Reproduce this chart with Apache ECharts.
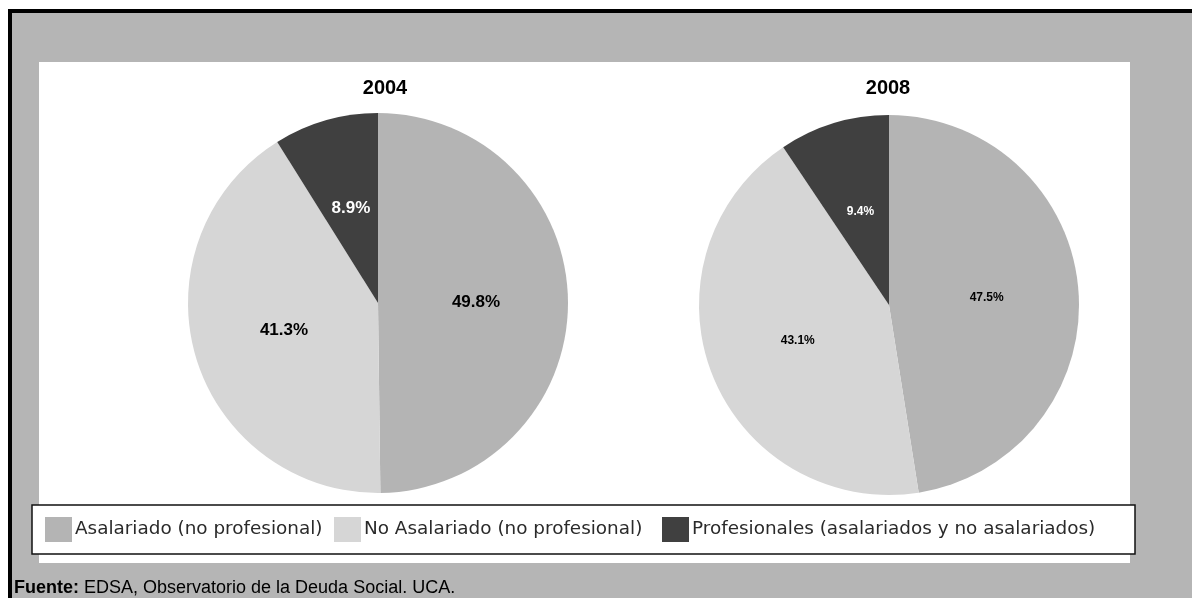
<!DOCTYPE html>
<html>
<head>
<meta charset="utf-8">
<script src="https://cdn.jsdelivr.net/npm/echarts@6/dist/echarts.min.js"></script>
<style>
  html, body { margin: 0; padding: 0; background: #ffffff; }
  #chart { width: 1192px; height: 598px; }
</style>
</head>
<body>
<div id="chart"></div>
<script>
// Categories of employment and their share (%) in each survey year
const categories = [
  'Asalariado (no profesional)',
  'No Asalariado (no profesional)',
  'Profesionales (asalariados y no asalariados)'
];
const years = ['2004', '2008'];
const values2004 = [49.8, 41.3, 8.9];
const values2008 = [47.5, 43.1, 9.4];
const sliceColors = ['#b4b4b4', '#d6d6d6', '#404040'];
const labelColors = ['#000000', '#000000', '#ffffff'];
const sourceNote = 'EDSA, Observatorio de la Deuda Social. UCA.';

const FONT_ARIAL = 'Arial, "Liberation Sans", sans-serif';
const FONT_LEGEND = '"DejaVu Sans", Verdana, sans-serif';

function pieSeries(values, center, labelSize) {
  return {
    type: 'pie',
    center: center,
    radius: 190,
    startAngle: 90,
    clockwise: true,
    silent: true,
    avoidLabelOverlap: false,
    itemStyle: { borderWidth: 0 },
    emphasis: { disabled: true },
    label: {
      show: true,
      position: 'inside',
      fontFamily: FONT_ARIAL,
      fontWeight: 'bold',
      fontSize: labelSize,
      formatter: p => p.value.toFixed(1) + '%'
    },
    labelLine: { show: false },
    data: categories.map((name, i) => ({
      name: name,
      value: values[i],
      itemStyle: { color: sliceColors[i] },
      label: { color: labelColors[i] }
    }))
  };
}

// one legend per entry so each sits at its own spot inside the frame
const legendLefts = [45, 334, 662];
const legends = categories.map((name, i) => ({
  data: [name],
  left: legendLefts[i],
  top: 517,
  padding: 0,
  orient: 'horizontal',
  icon: 'rect',
  itemWidth: 27,
  itemHeight: 25,
  itemGap: 0,
  selectedMode: false,
  textStyle: { fontFamily: FONT_LEGEND, fontSize: 18.4, color: '#2a2a2a', padding: [3, 0, 0, -2] }
}));

const chart = echarts.init(document.getElementById('chart'), null, { renderer: 'canvas' });
chart.setOption({
  animation: false,
  backgroundColor: '#ffffff',
  color: sliceColors,
  legend: legends,
  graphic: [
    // outer frame: dark edge on top and left, gray field
    { type: 'rect', z: -10, shape: { x: 8, y: 9, width: 1184, height: 589 }, style: { fill: '#000000' } },
    { type: 'rect', z: -10, shape: { x: 12, y: 13, width: 1180, height: 585 }, style: { fill: '#b5b5b5' } },
    // white plot panel
    { type: 'rect', z: -10, shape: { x: 39, y: 62, width: 1091, height: 501 }, style: { fill: '#ffffff' } },
    // legend frame
    { type: 'rect', z: -5, shape: { x: 32, y: 505, width: 1103, height: 49 }, style: { fill: '#ffffff', stroke: '#111111', lineWidth: 1.5 } },
    // pie titles
    { type: 'text', x: 385, y: 88, style: { text: years[0], font: 'bold 20px ' + FONT_ARIAL, fill: '#000000', align: 'center', verticalAlign: 'middle' } },
    { type: 'text', x: 888, y: 88, style: { text: years[1], font: 'bold 20px ' + FONT_ARIAL, fill: '#000000', align: 'center', verticalAlign: 'middle' } },
    // source line
    { type: 'text', x: 14, y: 588, style: {
        text: '{b|Fuente:} ' + sourceNote,
        font: '18px ' + FONT_ARIAL,
        fill: '#000000',
        verticalAlign: 'middle',
        rich: { b: { fontWeight: 'bold', fontSize: 18, fontFamily: FONT_ARIAL, fill: '#000000' } }
    } }
  ],
  series: [
    pieSeries(values2004, [378, 303], 17),
    pieSeries(values2008, [889, 305], 12)
  ]
});
</script>
</body>
</html>
